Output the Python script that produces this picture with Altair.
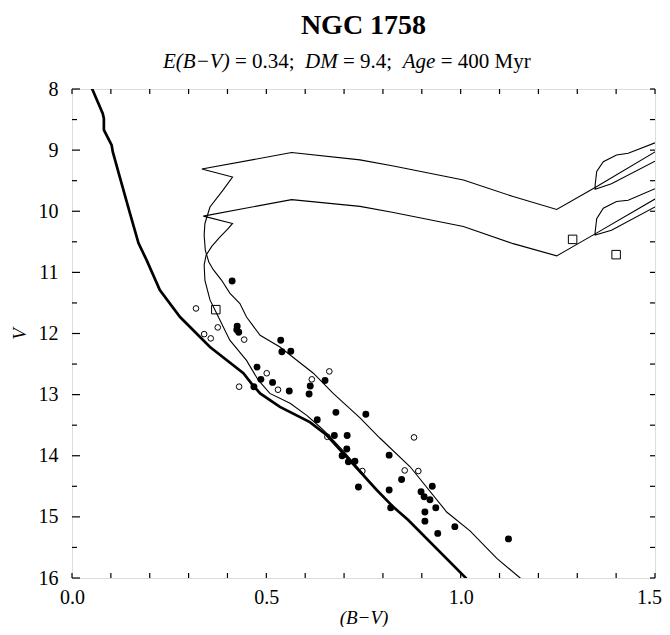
import altair as alt
import pandas as pd

# ---------------- data ----------------
# ZAMS (thick line)
zams_bv = [0.050, 0.052, 0.079, 0.082, 0.082, 0.102, 0.105, 0.123, 0.149, 0.171, 0.192,
           0.226, 0.278, 0.355, 0.441, 0.462, 0.484, 0.535, 0.612, 0.655, 0.698, 0.741,
           0.784, 0.827, 0.865, 1.015, 1.020]
zams_v = [7.97, 8.00, 8.40, 8.48, 8.67, 8.92, 9.03, 9.44, 10.03, 10.52, 10.80,
          11.29, 11.73, 12.22, 12.65, 12.82, 12.98, 13.20, 13.45, 13.66, 13.96, 14.26,
          14.56, 14.84, 15.05, 16.01, 16.04]

# isochrone, single stars
single_bv = [1.020, 1.015, 0.865, 0.827, 0.784, 0.746, 0.698, 0.655, 0.638, 0.604, 0.561,
             0.509, 0.479, 0.449, 0.406, 0.372, 0.355, 0.342, 0.340, 0.345, 0.360, 0.381,
             0.401, 0.413, 0.338, 0.565, 0.741, 0.827, 1.007, 1.135, 1.247, 1.346, 1.500, 1.520]
single_v = [16.04, 16.01, 15.05, 14.84, 14.56, 14.27, 13.92, 13.63, 13.53, 13.34, 13.14,
            12.98, 12.76, 12.44, 12.11, 11.67, 11.45, 11.13, 10.88, 10.72, 10.57, 10.42,
            10.29, 10.20, 10.08, 9.81, 9.92, 10.02, 10.25, 10.53, 10.73, 10.37, 9.80, 9.73]
single_loop_bv = [1.520, 1.500, 1.431, 1.401, 1.367, 1.350, 1.346, 1.346, 1.388, 1.500, 1.520]
single_loop_v = [9.57, 9.63, 9.82, 9.84, 9.95, 10.12, 10.34, 10.39, 10.31, 9.93, 9.86]

# isochrone, binary sequence
binary_bv = [1.160, 1.153, 1.093, 1.024, 0.964, 0.870, 0.792, 0.741, 0.672, 0.621, 0.535,
             0.484, 0.449, 0.432, 0.406, 0.385, 0.364, 0.352, 0.343, 0.340, 0.342, 0.355,
             0.389, 0.413, 0.334, 0.565, 0.741, 0.827, 1.007, 1.135, 1.247, 1.346, 1.500, 1.520]
binary_v = [16.05, 16.00, 15.68, 15.23, 14.92, 14.18, 13.71, 13.38, 12.98, 12.65, 12.22,
            12.03, 11.73, 11.51, 11.34, 11.13, 10.96, 10.83, 10.64, 10.39, 10.20, 9.93,
            9.65, 9.44, 9.31, 9.04, 9.16, 9.26, 9.49, 9.76, 9.97, 9.61, 9.03, 8.99]
binary_loop_bv = [1.520, 1.500, 1.431, 1.401, 1.367, 1.350, 1.346, 1.346, 1.388, 1.500, 1.520]
binary_loop_v = [8.82, 8.88, 9.05, 9.08, 9.19, 9.35, 9.57, 9.64, 9.55, 9.18, 9.11]

# stars: filled circles
filled_bv = [0.412, 0.425, 0.424, 0.429, 0.537, 0.540, 0.563, 0.476, 0.486, 0.516, 0.468,
             0.559, 0.613, 0.610, 0.651, 0.631, 0.679, 0.756, 0.675, 0.708, 0.707, 0.695,
             0.711, 0.728, 0.737, 0.816, 0.848, 0.816, 0.820, 0.927, 0.898, 0.906, 0.921,
             0.936, 0.908, 0.908, 0.941, 0.985, 1.123]
filled_v = [11.14, 11.88, 11.94, 11.98, 12.11, 12.30, 12.29, 12.55, 12.75, 12.80, 12.87,
            12.94, 12.86, 12.99, 12.77, 13.41, 13.29, 13.32, 13.67, 13.67, 13.89, 14.00,
            14.10, 14.09, 14.51, 13.99, 14.39, 14.56, 14.85, 14.50, 14.59, 14.67, 14.72,
            14.85, 14.92, 15.07, 15.27, 15.16, 15.36]
# open circles
open_bv = [0.319, 0.340, 0.357, 0.375, 0.443, 0.501, 0.430, 0.530, 0.662, 0.617, 0.657,
           0.747, 0.856, 0.891, 0.880]
open_v = [11.59, 12.01, 12.08, 11.90, 12.10, 12.65, 12.87, 12.92, 12.62, 12.75, 13.69,
          14.25, 14.24, 14.25, 13.70]
# open squares
square_bv = [0.370, 1.288, 1.400]
square_v = [11.61, 10.46, 10.71]

# axes
x_labels = [0.0, 0.5, 1.0, 1.5]
y_labels = [8, 9, 10, 11, 12, 13, 14, 15, 16]
x_ticks = [0.0, 0.1, 0.2, 0.3, 0.4, 0.5, 0.6, 0.7, 0.8, 0.9, 1.0, 1.1, 1.2, 1.3, 1.4, 1.5]
y_minor_ticks = [8.5, 9.5, 10.5, 11.5, 12.5, 13.5, 14.5, 15.5]

# ---------------- chart ----------------
W, H = 583, 489
FONT = "Liberation Serif"
xs = alt.Scale(domain=[0, 1.5], nice=False, zero=False)
ys = alt.Scale(domain=[8, 16], reverse=True, nice=False, zero=False)

x_axis = alt.Axis(values=x_labels, format=".1f", ticks=False, domain=False, grid=False,
                  labelFont=FONT, labelFontSize=20, labelColor="black", labelPadding=9,
                  labelFlush=False,
                  labelOffset={"condition": {"test": "datum.value >= 1.5", "value": -6},
                               "value": 0},
                  title="(B−V)", titleFont=FONT, titleFontSize=19,
                  titleFontStyle="italic", titleFontWeight="normal", titleColor="black",
                  titlePadding=1)
y_axis = alt.Axis(values=y_labels, format="d", ticks=False, domain=False, grid=False,
                  labelFont=FONT, labelFontSize=20, labelColor="black", labelPadding=14,
                  labelFlush=False, title="V", titleFont=FONT, titleFontSize=19,
                  titleFontStyle="italic", titleFontWeight="normal", titleColor="black",
                  titlePadding=9)


def curve(name, bv, v):
    return pd.DataFrame({"bv": bv, "v": v, "curve": name, "k": list(range(len(bv)))})


thin_df = pd.concat([
    curve("single", single_bv, single_v),
    curve("single_loop", single_loop_bv, single_loop_v),
    curve("binary", binary_bv, binary_v),
    curve("binary_loop", binary_loop_bv, binary_loop_v),
])
zams_df = curve("zams", zams_bv, zams_v)

X = alt.X("bv:Q", scale=xs, axis=x_axis)
Y = alt.Y("v:Q", scale=ys, axis=y_axis)

thin = alt.Chart(thin_df).mark_line(color="black", strokeWidth=1.1, clip=True).encode(
    x=X, y=Y, detail="curve:N", order="k:Q")
thick = alt.Chart(zams_df).mark_line(color="black", strokeWidth=2.7, clip=True).encode(
    x=X, y=Y, order="k:Q")

filled = alt.Chart(pd.DataFrame({"bv": filled_bv, "v": filled_v})).mark_point(
    shape="circle", filled=True, color="black", size=48, opacity=1).encode(x=X, y=Y)
opened = alt.Chart(pd.DataFrame({"bv": open_bv, "v": open_v})).mark_point(
    shape="circle", filled=False, color="black", size=32, strokeWidth=1, opacity=1).encode(x=X, y=Y)
squares = alt.Chart(pd.DataFrame({"bv": square_bv, "v": square_v})).mark_point(
    shape="square", filled=False, color="black", size=72, strokeWidth=1, opacity=1).encode(x=X, y=Y)

# inward ticks on all four sides
xt = pd.DataFrame({"bv": x_ticks})
ytM = pd.DataFrame({"v": y_labels})
ytm = pd.DataFrame({"v": y_minor_ticks})
tick_style = dict(color="black", strokeWidth=1.2)
ticks = [
    alt.Chart(xt).mark_rule(**tick_style).encode(x=X, y=alt.value(H), y2=alt.value(H - 5)),
    alt.Chart(xt).mark_rule(**tick_style).encode(x=X, y=alt.value(0), y2=alt.value(5)),
    alt.Chart(ytM).mark_rule(**tick_style).encode(y=Y, x=alt.value(0), x2=alt.value(8)),
    alt.Chart(ytm).mark_rule(**tick_style).encode(y=Y, x=alt.value(0), x2=alt.value(5)),
    alt.Chart(ytM).mark_rule(**tick_style).encode(y=Y, x=alt.value(W), x2=alt.value(W - 5)),
    alt.Chart(ytm).mark_rule(**tick_style).encode(y=Y, x=alt.value(W), x2=alt.value(W - 5)),
]


def label(txt, x, y, size, style="normal", weight="normal", align="left"):
    return alt.Chart(pd.DataFrame({"s": [txt]})).mark_text(
        font=FONT, fontSize=size, fontStyle=style, fontWeight=weight, align=align,
        baseline="alphabetic", color="black").encode(
        text="s:N", x=alt.value(x), y=alt.value(y))


texts = [
    label("NGC 1758", W / 2, -55, 28, weight="bold", align="center"),
    label("E(B−V)", 91, -21, 21, style="italic"),
    label("= 0.34;", 162.9, -21, 21),
    label("DM", 233.1, -21, 21, style="italic"),
    label("= 9.4;", 271.0, -21, 21),
    label("Age", 330.7, -21, 21, style="italic"),
    label("= 400 Myr", 368.7, -21, 21),
]

chart = alt.layer(thin, thick, filled, opened, squares, *ticks, *texts).properties(
    width=W, height=H,
    autosize=alt.AutoSizeParams(type="none"),
    padding={"left": 64, "top": 81, "right": 7, "bottom": 49},
).configure_view(stroke="black", strokeWidth=1.3).configure(background="white")

chart.save("out.html", embed_options={"renderer": "svg", "actions": False})
